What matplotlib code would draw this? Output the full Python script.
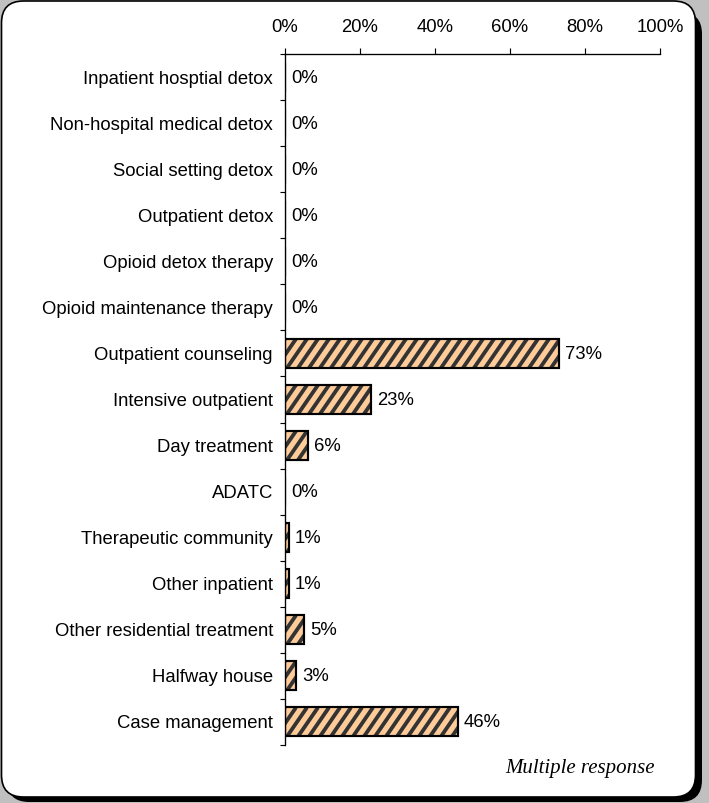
import numpy as np
import matplotlib
matplotlib.use("Agg")
import matplotlib.pyplot as plt
import matplotlib.patches as patches
import matplotlib.transforms as transforms
from matplotlib.collections import LineCollection

# ---------- data ----------
categories = [
    "Inpatient hosptial detox",
    "Non-hospital medical detox",
    "Social setting detox",
    "Outpatient detox",
    "Opioid detox therapy",
    "Opioid maintenance therapy",
    "Outpatient counseling",
    "Intensive outpatient",
    "Day treatment",
    "ADATC",
    "Therapeutic community",
    "Other inpatient",
    "Other residential treatment",
    "Halfway house",
    "Case management",
]
values = [0, 0, 0, 0, 0, 0, 73, 23, 6, 0, 1, 1, 5, 3, 46]
x_ticks = [0, 20, 40, 60, 80, 100]
note = "Multiple response"

DPI = 120
W_PX, H_PX = 709, 803

plt.rcParams["font.family"] = ["Liberation Sans", "DejaVu Sans"]

fig = plt.figure(figsize=(W_PX / DPI, H_PX / DPI), dpi=DPI)
fig.patch.set_facecolor("#c0c0c0")

# ---------- rounded frame with shadow (pixel coords, origin bottom-left) ----------
pix = transforms.IdentityTransform()
r = 22
shadow = patches.FancyBboxPatch((7, 1), 695, 790,
                                boxstyle=f"round,pad=0,rounding_size={r}",
                                transform=pix, facecolor="black", edgecolor="none",
                                zorder=-3)
frame = patches.FancyBboxPatch((1.5, 6), 694, 796,
                               boxstyle=f"round,pad=0,rounding_size={r}",
                               transform=pix, facecolor="white", edgecolor="black",
                               linewidth=1.0, zorder=-2)
fig.patches.extend([shadow, frame])

# ---------- axes ----------
ax_top, ax_bot = 54, 745
ax_w, ax_h = 375, ax_bot - ax_top
ax = fig.add_axes([285 / W_PX, 1 - ax_bot / H_PX, ax_w / W_PX, ax_h / H_PX])
ax.set_zorder(2)
ax.patch.set_alpha(0)
ax.set_xlim(0, 100)
ax.set_ylim(len(categories) - 0.5, -0.5)

y = np.arange(len(categories))
bar_h = 0.63
bars = ax.barh(y, values, height=bar_h, color="#ffcc99", linewidth=0, zorder=2)

# diagonal stripes (about 55 deg, ~11 px apart), clipped to each bar
px_x = ax_w / 100.0                 # pixels per percent
px_y = ax_h / len(categories)       # pixels per category
step = 11 / px_x
run = bar_h * px_y / 1.45 / px_x
for rect in bars:
    x0, w = rect.get_x(), rect.get_width()
    if w <= 0:
        continue
    y0, h = rect.get_y(), rect.get_height()
    starts = np.arange(x0 - run - step, x0 + w + step, step)
    segs = [[(s, y0 + h), (s + run, y0)] for s in starts]
    lc = LineCollection(segs, colors="#333333", linewidths=2.3, zorder=2.5,
                        capstyle="butt")
    ax.add_collection(lc, autolim=False)
    lc.set_clip_path(rect)   # after add_collection, else it gets reset

ax.barh(y, values, height=bar_h, facecolor="none", edgecolor="black",
        linewidth=1.3, zorder=3)

for yi, v in zip(y, values):
    ax.annotate(f"{v}%", xy=(v, yi), xytext=(3.8, -0.6), textcoords="offset points",
                ha="left", va="center", fontsize=11.1)

ax.xaxis.tick_top()
ax.set_xticks(x_ticks)
ax.set_xticklabels([f"{t}%" for t in x_ticks])
ax.tick_params(axis="x", direction="out", length=3.5, width=0.7, pad=7.5, labelsize=11.1)

ax.set_yticks(y)
ax.set_yticklabels(categories)
ax.set_yticks(np.arange(-0.5, len(categories), 1.0), minor=True)
ax.tick_params(axis="y", which="major", length=0, pad=7.2, labelsize=11.1)
ax.tick_params(axis="y", which="minor", direction="out", length=3, width=0.7)

for s in ["right", "bottom"]:
    ax.spines[s].set_visible(False)
for s in ["top", "left"]:
    ax.spines[s].set_linewidth(0.8)

fig.text(655 / W_PX, 1 - 768 / H_PX, note, ha="right", va="center",
         fontsize=12.5, style="italic", family=["Liberation Serif", "DejaVu Serif"])

fig.savefig("out.png", dpi=DPI, facecolor=fig.get_facecolor())
